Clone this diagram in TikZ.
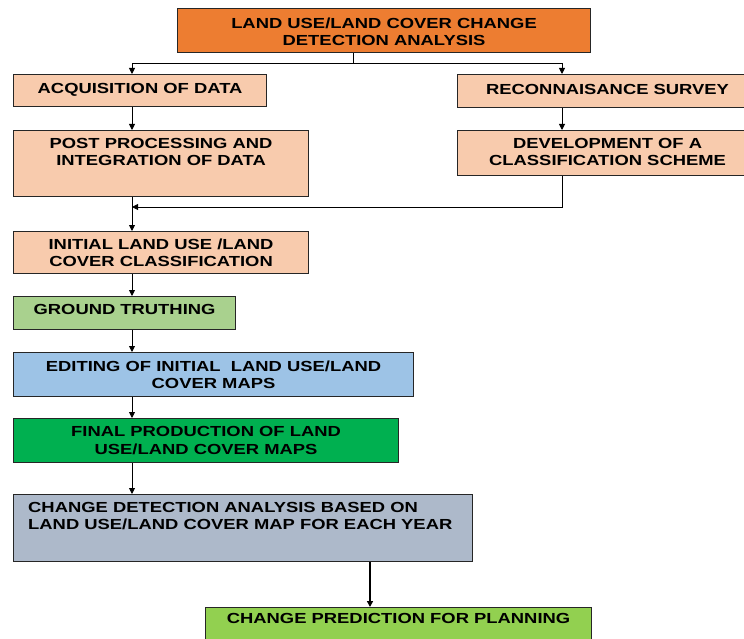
\documentclass[tikz,border=0pt]{standalone}
\usepackage{fontspec}
\setmainfont{Liberation Sans}[FakeStretch=1.26]
\usetikzlibrary{arrows.meta}
\definecolor{cOrange}{HTML}{ED7D31}
\definecolor{cPeach}{HTML}{F8CBAD}
\definecolor{cLGreen}{HTML}{A9D18E}
\definecolor{cBlue}{HTML}{9DC3E6}
\definecolor{cGreen}{HTML}{00B050}
\definecolor{cGray}{HTML}{ADB9CA}
\definecolor{cYGreen}{HTML}{92D050}
\definecolor{cBorder}{HTML}{262626}
\tikzset{
  box/.style={draw=cBorder, line width=1.1pt, inner sep=0pt, anchor=north west},
  txt/.style={font=\fontsize{14.6}{17.5}\selectfont\bfseries, align=center, inner sep=0pt},
  conn/.style={line width=0.9pt, black},
  arr/.style={conn, -{Triangle[width=6pt,length=6pt]}},
}
\begin{document}
\begin{tikzpicture}[x=1pt,y=-1pt]
\useasboundingbox (0,0) rectangle (744,639);
% boxes
\node[box, fill=cOrange, minimum width=413pt, minimum height=44pt] (top) at (177,8) {};
\node[box, fill=cPeach, minimum width=253pt, minimum height=32pt] (acq) at (13,74) {};
\node[box, fill=cPeach, minimum width=290pt, minimum height=33pt] (rec) at (457,74) {};
\node[box, fill=cPeach, minimum width=295pt, minimum height=66pt] (post) at (13,130) {};
\node[box, fill=cPeach, minimum width=290pt, minimum height=45pt] (dev) at (457,130) {};
\node[box, fill=cPeach, minimum width=295pt, minimum height=42pt] (init) at (13,231) {};
\node[box, fill=cLGreen, minimum width=222pt, minimum height=33pt] (grd) at (13,296) {};
\node[box, fill=cBlue, minimum width=400pt, minimum height=44pt] (edit) at (13,352) {};
\node[box, fill=cGreen, minimum width=385pt, minimum height=44pt] (fin) at (13,418) {};
\node[box, fill=cGray, minimum width=459pt, minimum height=67pt] (chg) at (13,494) {};
\node[box, fill=cYGreen, minimum width=386pt, minimum height=40pt] (pred) at (205,607) {};
% texts
\node[txt] (topT) at ([yshift=-1pt]top.center) {LAND USE/LAND COVER CHANGE\\DETECTION ANALYSIS};
\node[txt] (acqT) at ([yshift=1pt]acq.center) {ACQUISITION OF DATA};
\node[txt] (recT) at ([xshift=5pt,yshift=2pt]rec.center) {RECONNAISANCE SURVEY};
\node[txt, anchor=north] (postT) at ([yshift=-8pt]post.north) {POST PROCESSING AND\\INTEGRATION OF DATA};
\node[txt, anchor=north] (devT) at ([xshift=5pt,yshift=-8pt]dev.north) {DEVELOPMENT OF A\\CLASSIFICATION SCHEME};
\node[txt] (initT) at ([yshift=0pt]init.center) {INITIAL LAND USE /LAND\\COVER CLASSIFICATION};
\node[txt] (grdT) at ([yshift=4pt]grd.center) {GROUND TRUTHING};
\node[txt] (editT) at ([yshift=0pt]edit.center) {EDITING OF INITIAL\ \ LAND USE/LAND\\COVER MAPS};
\node[txt] (finT) at ([yshift=0pt]fin.center) {FINAL PRODUCTION OF LAND\\USE/LAND COVER MAPS};
\node[txt, align=left, anchor=north west] (chgT) at ([xshift=15pt,yshift=-8pt]chg.north west) {CHANGE DETECTION ANALYSIS BASED ON\\LAND USE/LAND COVER MAP FOR EACH YEAR};
\node[txt, anchor=north] (predT) at ([yshift=-6pt]pred.north) {CHANGE PREDICTION FOR PLANNING};
% connectors
\coordinate (split) at (353,63);
\coordinate (join) at (562,207);
\coordinate (merge) at (132,207);
\draw[conn] (top.south -| split) -- (split);
\draw[arr] (split) -| (acq.north -| merge);
\draw[arr] (split) -| (rec.north -| join);
\draw[arr] (acq.south -| merge) -- (post.north -| merge);
\draw[arr] (rec.south -| join) -- (dev.north -| join);
\draw[arr] (dev.south -| join) -- (join) -- (merge);
\draw[arr] (post.south -| merge) -- (init.north -| merge);
\draw[arr] (init.south -| merge) -- (grd.north -| merge);
\draw[arr] (grd.south -| merge) -- (edit.north -| merge);
\draw[arr] (edit.south -| merge) -- (fin.north -| merge);
\draw[arr] (fin.south -| merge) -- (chg.north -| merge);
\coordinate (low) at (370,0);
\draw[arr, line width=1.5pt] (chg.south -| low) -- (pred.north -| low);
\end{tikzpicture}
\end{document}
